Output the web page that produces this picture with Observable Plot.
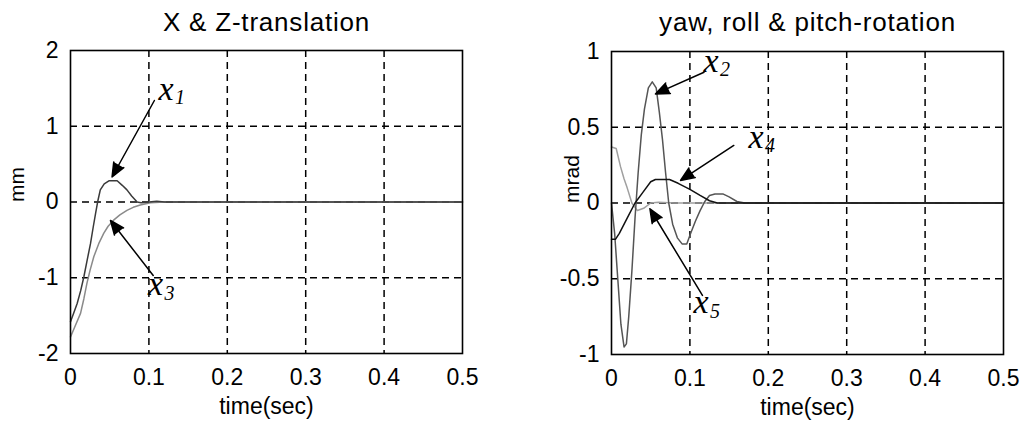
<!DOCTYPE html>
<html><head><meta charset="utf-8">
<script src="https://cdn.jsdelivr.net/npm/d3@7"></script>
<script src="https://cdn.jsdelivr.net/npm/@observablehq/plot@0.6"></script>
<style>
body{margin:0;background:#fff;}
#wrap{position:relative;width:1020px;height:424px;background:#fff;overflow:hidden;}
#wrap svg{position:absolute;top:0;}
</style></head><body><div id="wrap"></div>
<script>
// ---- tick values ----
const xTicks = [0, 0.1, 0.2, 0.3, 0.4, 0.5];
const xGrid = [0.1, 0.2, 0.3, 0.4];
const leftYTicks = [-2, -1, 0, 1, 2];
const leftYGrid = [-1, 0, 1];
const rightYTicks = [-1, -0.5, 0, 0.5, 1];
const rightYGrid = [-0.5, 0, 0.5];

// ---- left panel series (mm) ----
const x1T = [0, 0.004, 0.0085, 0.013, 0.017, 0.021, 0.0255, 0.029, 0.032, 0.035, 0.038, 0.043, 0.049, 0.0595, 0.066, 0.072, 0.078, 0.085, 0.09, 0.1, 0.11, 0.12, 0.5];
const x1V = [-1.58, -1.47, -1.34, -1.17, -0.99, -0.78, -0.55, -0.33, -0.15, 0.02, 0.16, 0.24, 0.28, 0.28, 0.22, 0.16, 0.08, 0.0, -0.01, 0, 0.01, 0, 0];
const x3T = [0, 0.005, 0.0128, 0.017, 0.021, 0.025, 0.0298, 0.036, 0.0425, 0.048, 0.055, 0.063, 0.072, 0.08, 0.089, 0.102, 0.12, 0.5];
const x3V = [-1.78, -1.66, -1.47, -1.28, -1.07, -0.9, -0.72, -0.55, -0.41, -0.32, -0.24, -0.17, -0.11, -0.07, -0.04, -0.01, 0, 0];

// ---- right panel series (mrad) ----
const x2T = [0, 0.004, 0.008, 0.012, 0.016, 0.019, 0.022, 0.026, 0.03, 0.034, 0.038, 0.042, 0.047, 0.052, 0.057, 0.061, 0.065, 0.069, 0.073, 0.078, 0.084, 0.09, 0.096, 0.101, 0.107, 0.113, 0.119, 0.125, 0.132, 0.142, 0.15, 0.16, 0.17, 0.5];
const x2V = [0, -0.2, -0.5, -0.8, -0.95, -0.93, -0.75, -0.45, -0.1, 0.2, 0.45, 0.62, 0.76, 0.8, 0.76, 0.6, 0.42, 0.2, 0.0, -0.14, -0.23, -0.27, -0.27, -0.2, -0.12, -0.05, 0.01, 0.05, 0.06, 0.06, 0.04, 0.01, 0, 0];
const x4T = [0, 0.005, 0.01, 0.02, 0.03, 0.04, 0.05, 0.056, 0.074, 0.085, 0.1, 0.113, 0.125, 0.135, 0.5];
const x4V = [-0.24, -0.24, -0.2, -0.1, 0.0, 0.07, 0.14, 0.155, 0.155, 0.13, 0.09, 0.05, 0.015, 0, 0];
const x5T = [0, 0.006, 0.0115, 0.016, 0.02, 0.026, 0.033, 0.041, 0.05, 0.06, 0.08, 0.5];
const x5V = [0.37, 0.36, 0.24, 0.16, 0.1, 0.0, -0.05, -0.035, 0, 0.005, 0, 0];

// ---- annotations (data units) ----
const leftArrows = [
  {x1: 0.107, y1: 1.34, x2: 0.053, y2: 0.33},
  {x1: 0.1055, y1: -0.97, x2: 0.051, y2: -0.244}
];
const leftLabels = [
  {name: "x", sub: "1", x: 0.1218, y: 1.452},
  {name: "x", sub: "3", x: 0.1084, y: -1.129}
];
const rightArrows = [
  {x1: 0.118, y1: 0.863, x2: 0.056, y2: 0.72},
  {x1: 0.156, y1: 0.38, x2: 0.088, y2: 0.149},
  {x1: 0.116, y1: -0.61, x2: 0.049, y2: -0.038}
];
const rightLabels = [
  {name: "x", sub: "2", x: 0.127, y: 0.917},
  {name: "x", sub: "4", x: 0.1843, y: 0.416},
  {name: "x", sub: "5", x: 0.1142, y: -0.677}
];

const toRows = (t, v) => t.map((tt, i) => ({t: tt, v: v[i]}));
const fmt = d => String(d);
const gridStyle = {stroke: "#000", strokeOpacity: 1, strokeWidth: 1.5, strokeDasharray: "7,5"};
const sans = "'Liberation Sans', Arial, sans-serif";
const serif = "'Liberation Serif', 'Times New Roman', serif";

function panel(o) {
  const svg = Plot.plot({
    width: 510, height: 424,
    marginLeft: o.ml, marginRight: o.mr, marginTop: o.mt, marginBottom: o.mb,
    style: {fontFamily: sans, fontSize: "23px", background: "transparent", color: "#000"},
    x: {domain: [0, 0.5]},
    y: {domain: o.yDomain},
    marks: [
      Plot.gridX(xGrid, gridStyle),
      Plot.gridY(o.yGrid, gridStyle),
      ...o.series.map(s => Plot.line(toRows(s.t, s.v), {x: "t", y: "v", stroke: s.color, strokeWidth: 1.5})),
      Plot.frame({stroke: "#000", strokeWidth: 1.6}),
      Plot.axisX(xTicks, {tickSize: 0, tickPadding: 15, tickFormat: fmt, label: null, fontSize: 23}),
      Plot.axisY(o.yTicks, {tickSize: 0, tickPadding: 12, tickFormat: fmt, label: null, fontSize: 23}),
      Plot.arrow(o.arrows, {x1: "x1", y1: "y1", x2: "x2", y2: "y2", stroke: "#000", fill: "#000", strokeWidth: 1.5, headLength: 15, headAngle: 45}),
      Plot.text(o.labels, {x: "x", y: "y", text: "name", fontFamily: serif, fontStyle: "italic", fontSize: 34, lineAnchor: "middle", dy: -3}),
      Plot.text(o.labels, {x: "x", y: "y", text: "sub", fontFamily: serif, fontStyle: "italic", fontSize: 20, lineAnchor: "middle", dx: 14, dy: 6}),
      Plot.text([o.title], {frameAnchor: "top", lineAnchor: "middle", dy: o.titleDy, fontSize: 26}),
      Plot.text([o.xlabel], {frameAnchor: "bottom", lineAnchor: "middle", dy: 53, fontSize: 23}),
      Plot.text([o.ylabel], {frameAnchor: "left", lineAnchor: "middle", dx: o.ylabelDx, rotate: -90, fontSize: 21})
    ]
  });
  d3.select(svg).selectAll("text").filter(function() { return this.textContent === o.title; })
    .style("letter-spacing", "0.8px");
  svg.style.left = o.left + "px";
  return svg;
}

const wrap = document.getElementById("wrap");
wrap.append(panel({
  left: 0, ml: 70, mr: 48, mt: 50, mb: 71,
  yDomain: [-2, 2], yTicks: leftYTicks, yGrid: leftYGrid,
  series: [{t: x3T, v: x3V, color: "#8a8a8a"}, {t: x1T, v: x1V, color: "#3a3a3a"}],
  arrows: leftArrows, labels: leftLabels,
  title: "X & Z-translation", titleDy: -28, xlabel: "time(sec)", ylabel: "mm", ylabelDx: -53
}));
wrap.append(panel({
  left: 510, ml: 101, mr: 17, mt: 51, mb: 70,
  yDomain: [-1, 1], yTicks: rightYTicks, yGrid: rightYGrid,
  series: [{t: x5T, v: x5V, color: "#a0a0a0"}, {t: x2T, v: x2V, color: "#555555"}, {t: x4T, v: x4V, color: "#111111"}],
  arrows: rightArrows, labels: rightLabels,
  title: "yaw, roll & pitch-rotation", titleDy: -29, xlabel: "time(sec)", ylabel: "mrad", ylabelDx: -39
}));
</script></body></html>
